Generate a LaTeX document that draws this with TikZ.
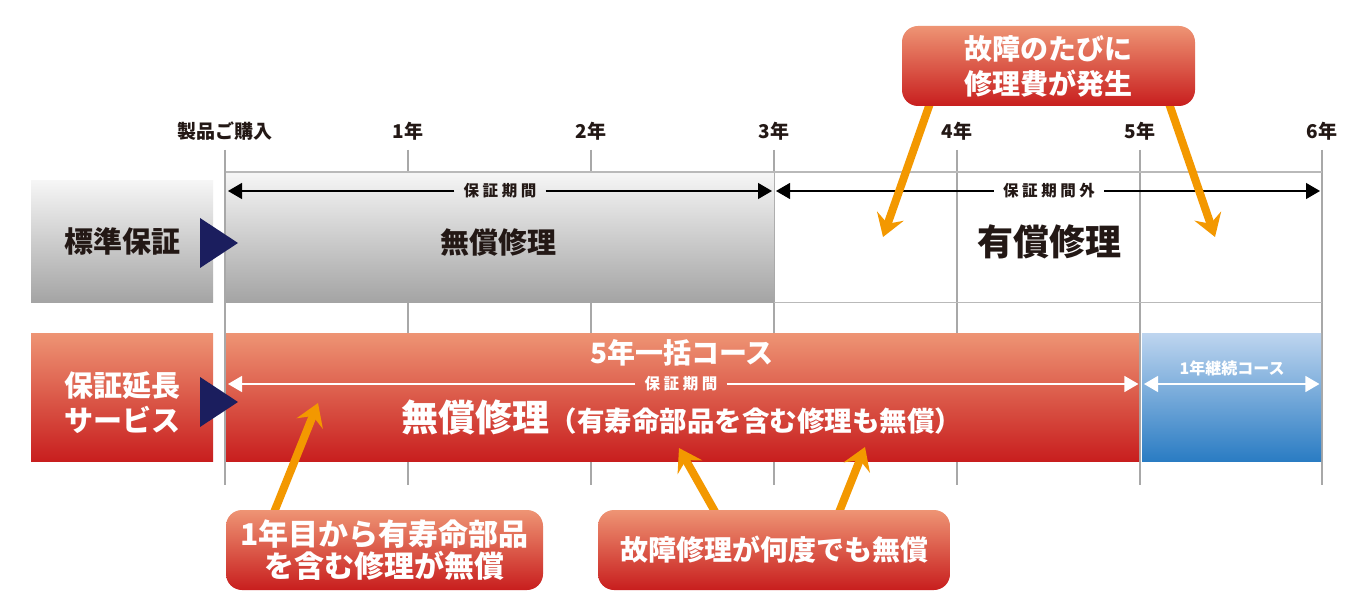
\documentclass[tikz,border=0pt]{standalone}
\usepackage{fontspec}
\setmainfont{Noto Sans CJK JP}
\usetikzlibrary{arrows.meta,calc,positioning}
\definecolor{redtop}{HTML}{EE9474}
\definecolor{redbot}{HTML}{C81E1E}
\definecolor{graytop}{HTML}{F6F6F6}
\definecolor{graybot}{HTML}{A4A4A4}
\definecolor{bluetop}{HTML}{BED5EF}
\definecolor{bluebot}{HTML}{2A7CC3}
\definecolor{navy}{HTML}{1B1E5E}
\definecolor{pointer}{HTML}{F39800}
\definecolor{tickgray}{HTML}{A8A8A8}
\definecolor{ink}{HTML}{231815}
\pgfdeclarelayer{front}
\pgfsetlayers{main,front}

\begin{document}
\begin{tikzpicture}[x=1pt,y=-1pt,inner sep=0pt,
  bar/.style={anchor=north west,minimum height=128pt},
  redbar/.style={bar,top color=redtop,bottom color=redbot},
  graybar/.style={bar,top color=graytop,bottom color=graybot},
  bluebar/.style={bar,top color=bluetop,bottom color=bluebot},
  callout/.style={rounded corners=16pt,top color=redtop,bottom color=redbot,text=white,
    font=\bfseries\fontsize{28}{35}\selectfont,align=center,minimum height=80pt},
  yearlbl/.style={font=\bfseries\fontsize{19}{19}\selectfont,text=ink},
  spanlbl/.style={font=\bfseries\fontsize{15.5}{15.5}\selectfont,inner xsep=9pt},
  spanarrow/.style={line width=1.2pt,-{Triangle[length=14pt,width=16pt]}},
  tickline/.style={tickgray,line width=2pt},
  rowline/.style={tickgray!80,line width=1.5pt},
  pointerarrow/.style={pointer,line width=8pt,-{Stealth[length=22pt,width=28pt,inset=8pt]}}]
\fill[white] (0,0) rectangle (1359,612);
\useasboundingbox (0,0) rectangle (1359,612);

\coordinate (t0) at (225,150);
\coordinate[right=183pt of t0] (t1);
\coordinate[right=183pt of t1] (t2);
\coordinate[right=183pt of t2] (t3);
\coordinate[right=183pt of t3] (t4);
\coordinate[right=183pt of t4] (t5);
\coordinate[right=182pt of t5] (t6);
\coordinate[below=335pt of t0] (b0);
\coordinate[below=335pt of t1] (b1);
\coordinate[below=335pt of t2] (b2);
\coordinate[below=335pt of t3] (b3);
\coordinate[below=335pt of t4] (b4);
\coordinate[below=335pt of t5] (b5);
\coordinate[below=335pt of t6] (b6);
\node[yearlbl,above=9pt of t0] (y0) {製品ご購入};
\node[yearlbl,above=9pt of t1] (y1) {1年};
\node[yearlbl,above=9pt of t2] (y2) {2年};
\node[yearlbl,above=9pt of t3] (y3) {3年};
\node[yearlbl,above=9pt of t4] (y4) {4年};
\node[yearlbl,above=9pt of t5] (y5) {5年};
\node[yearlbl,above=9pt of t6] (y6) {6年};
\draw[tickline] (t0) -- (b0);
\draw[tickline] (t1) -- (b1);
\draw[tickline] (t2) -- (b2);
\draw[tickline] (t3) -- (b3);
\draw[tickline] (t4) -- (b4);
\draw[tickline] (t5) -- (b5);
\draw[tickline] (t6) -- (b6);

\node[graybar,minimum width=182pt,minimum height=122pt,text=ink,
  font=\bfseries\fontsize{29}{29}\selectfont] (stdlbl) at (31,180) {標準保証};
\node[graybar,minimum width=548pt,minimum height=130pt] (std3) at (226,172) {};
\draw[rowline] (std3.north west) -- (t6 |- std3.north);
\draw[rowline] (std3.south east) -- (t6 |- std3.south);
\node[text=ink,font=\bfseries\fontsize{29}{29}\selectfont] (freetxt) at (498,242) {無償修理};
\node[text=ink,font=\bfseries\fontsize{36}{36}\selectfont] (paidtxt) at (1049,242) {有償修理};
\node[spanlbl,text=ink] (span3) at (500,191) {保 証 期 間};
\node[spanlbl,text=ink] (spanout) at (1049,191) {保 証 期 間 外};
\draw[spanarrow,shorten >=3pt] (span3.west) -- (t0 |- span3);
\draw[spanarrow,shorten >=2pt] (span3.east) -- (t3 |- span3);
\draw[spanarrow,shorten >=2pt] (spanout.west) -- (t3 |- spanout);
\draw[spanarrow,shorten >=2pt] (spanout.east) -- (t6 |- spanout);
\fill[navy] (200,218) -- (238,243) -- (200,268) -- cycle;

\node[redbar,minimum width=182pt] (extlbl) at (31,333) {};
\node[text=white,align=center,font=\bfseries\fontsize{29}{35}\selectfont]
  (extlbltxt) at ([yshift=-5pt]extlbl.center) {保証延長\\サービス};
\node[redbar,minimum width=913pt] (ext5) at (226,333) {};
\node[bluebar,minimum width=179pt] (ext1) at (1142,333) {};
\node[text=white,font=\bfseries\fontsize{28}{28}\selectfont] (course5) at (682,353) {5年一括コース};
\node[spanlbl,text=white] (span5) at (681,384) {保 証 期 間};
\node[text=white] (free5) at (682,417) {{\bfseries\fontsize{37}{37}\selectfont 無償修理}{\bfseries\fontsize{27.5}{27.5}\selectfont （有寿命部品を含む修理も無償）}};
\node[text=white,font=\bfseries\fontsize{16}{16}\selectfont] (course1) at (1232,368) {1年継続コース};
\draw[spanarrow,white,line width=1.4pt,shorten >=3pt] (span5.west) -- (t0 |- span5);
\draw[spanarrow,white,line width=1.4pt,shorten >=1pt] (span5.east) -- (ext5.east |- span5);
\draw[spanarrow,white,line width=1.4pt,{Triangle[length=14pt,width=16pt]}-{Triangle[length=14pt,width=16pt]},
  shorten <=2pt,shorten >=2pt] (ext1.west |- span5) -- (ext1.east |- span5);
\fill[navy] (200,377) -- (238,402) -- (200,427) -- cycle;

\begin{pgfonlayer}{front}
\node[callout,minimum width=293pt] (cost) at (1048.5,66) {故障のたびに\\修理費が発生};
\node[callout,minimum width=317pt,font=\bfseries\fontsize{30}{32}\selectfont] (life) at (384.5,550) {1年目から有寿命部品\\を含む修理が無償};
\node[callout,minimum width=352pt] (repair) at (774,550) {故障修理が何度でも無償};
\end{pgfonlayer}

\coordinate (costtipA) at (883,237);
\coordinate (costtipB) at (1215,237);
\coordinate (lifetip) at (318,403);
\coordinate (repairtipA) at (679,448);
\coordinate (repairtipB) at (865,447);
\draw[pointerarrow] ($(cost.south)+(-116,-10)$) -- (costtipA);
\draw[pointerarrow] ($(cost.south)+(118,-10)$) -- (costtipB);
\draw[pointerarrow] ($(life.north)+(-113.5,10)$) -- (lifetip);
\draw[pointerarrow] ($(repair.north)+(-54.4,10)$) -- (repairtipA);
\draw[pointerarrow] ($(repair.north)+(62,10)$) -- (repairtipB);
\end{tikzpicture}
\end{document}
